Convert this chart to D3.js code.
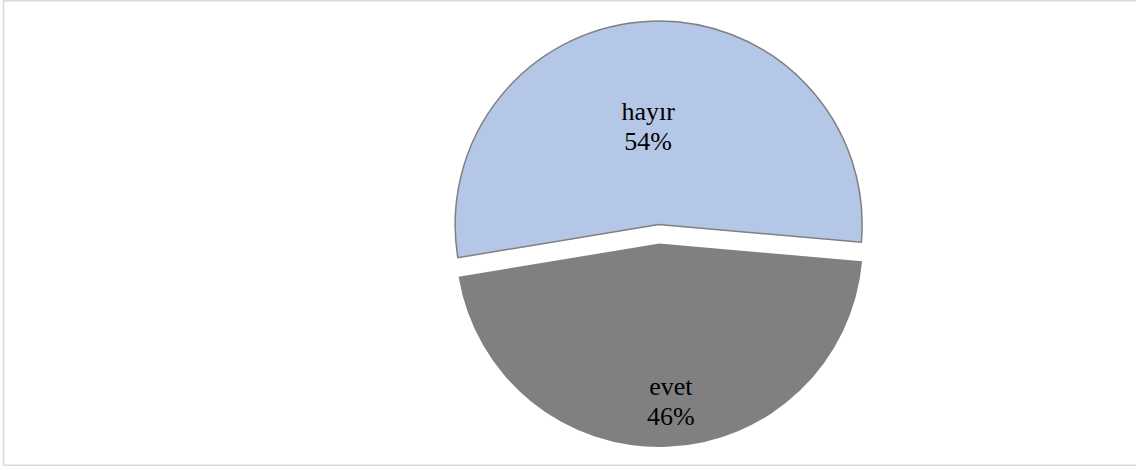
<!DOCTYPE html>
<html>
<head>
<meta charset="utf-8">
<script src="https://cdn.jsdelivr.net/npm/d3@7"></script>
<style>
  body { margin: 0; background: #fff; }
</style>
</head>
<body>
<div id="chart"></div>
<script>
  const categories = ['evet', 'hayır'];
  const values = [46, 54];
  const colors = ['#808080', '#b4c7e7'];

  const width = 1136;
  const height = 470;
  const cx = 659, cy = 234;
  const radius = 203.5;
  const explode = 9.5;
  const startDeg = 95;
  // label spot: share of radius along the bisector, and a small turn in degrees
  const labelPos = [0.776, 0.487];
  const labelTurn = [-2, -3.9];

  const svg = d3.select('#chart')
    .append('svg')
    .attr('width', width)
    .attr('height', height);

  // chart area frame
  svg.append('rect')
    .attr('x', 3.5)
    .attr('y', 0.75)
    .attr('width', width + 10)
    .attr('height', 464.5)
    .attr('fill', 'none')
    .attr('stroke', '#d9d9d9')
    .attr('stroke-width', 1.5);

  const start = startDeg * Math.PI / 180;
  const pie = d3.pie()
    .sort(null)
    .startAngle(start)
    .endAngle(start + 2 * Math.PI);

  const arcs = pie(values);
  const arc = d3.arc().innerRadius(0).outerRadius(radius);

  const g = svg.append('g')
    .attr('transform', `translate(${cx},${cy})`);

  const mid = d => (d.startAngle + d.endAngle) / 2;

  const slice = g.selectAll('g.slice')
    .data(arcs)
    .join('g')
    .attr('class', 'slice')
    .attr('transform', d => {
      const a = mid(d);
      return `translate(${Math.sin(a) * explode},${-Math.cos(a) * explode})`;
    });

  slice.append('path')
    .attr('d', arc)
    .attr('fill', (d, i) => colors[i])
    .attr('stroke', (d, i) => i === 1 ? '#7f7f7f' : 'none')
    .attr('stroke-width', 1.5);

  const label = slice.append('text')
    .attr('transform', (d, i) => {
      const r = radius * labelPos[i];
      const a = mid(d) + labelTurn[i] * Math.PI / 180;
      return `translate(${Math.sin(a) * r},${-Math.cos(a) * r})`;
    })
    .attr('text-anchor', 'middle')
    .attr('font-family', '"Liberation Serif", "Times New Roman", serif')
    .attr('font-size', '26px')
    .attr('fill', '#000');

  label.append('tspan')
    .attr('x', 0)
    .attr('y', -6)
    .text((d, i) => categories[i]);

  label.append('tspan')
    .attr('x', 0)
    .attr('y', 24)
    .text((d, i) => Math.round(d.value / d3.sum(values) * 100) + '%');
</script>
</body>
</html>
